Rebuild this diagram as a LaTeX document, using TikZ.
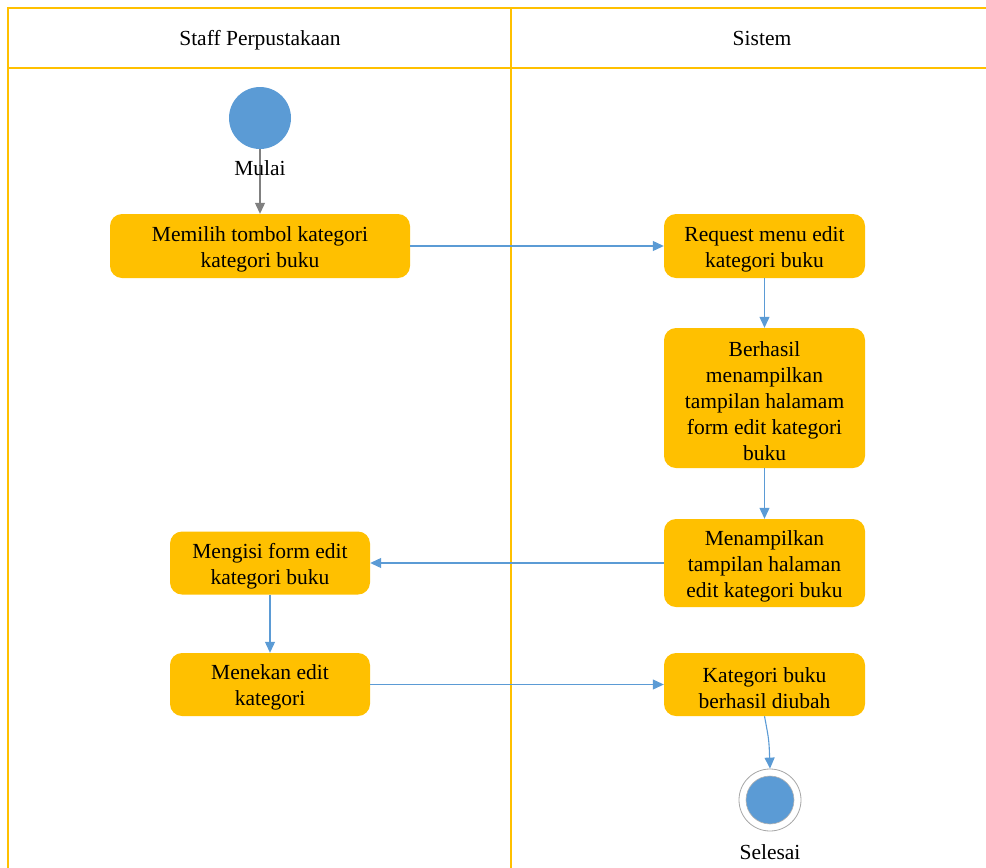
\documentclass[tikz,border=0pt]{standalone}
\usepackage{fontspec}
\setmainfont{Liberation Serif}
\usetikzlibrary{arrows.meta}
\definecolor{lane}{HTML}{FFC000}
\definecolor{act}{HTML}{FFC000}
\definecolor{flow}{HTML}{5B9BD5}
\definecolor{dot}{HTML}{5B9BD5}
% taller first line so the text block sits a little lower in its box
\newcommand\topgap{\rule{0pt}{21.5pt}}
\begin{document}
\begin{tikzpicture}[x=1pt,y=-1pt,
  lanebar/.style={draw=lane,line width=1.6pt},
  action/.style={fill=act,rounded corners=12pt,align=center,font=\fontsize{21.5}{26}\selectfont,inner sep=0pt},
  flowline/.style={draw=flow,line width=1.1pt,-{Triangle[length=11pt,width=10pt]}},
  startflow/.style={draw=gray,line width=1.1pt,-{Triangle[length=11pt,width=10pt]}},
  lbl/.style={font=\fontsize{21.5}{24}\selectfont,inner sep=0pt},
  head/.style={font=\fontsize{21.5}{24}\selectfont,inner sep=0pt,anchor=base}]
\useasboundingbox (0,0) rectangle (986,868);
% swimlane frame
\draw[lanebar] (986,8) -- (8,8) -- (8,868);
\draw[lanebar] (8,68) -- (986,68);
\draw[lanebar] (511,8) -- (511,868);
\node[head] (h1) at (260,45) {Staff Perpustakaan};
\node[head] (h2) at (762,45) {Sistem};
% start / end
\node[circle,fill=dot,minimum size=62pt,inner sep=0pt] (start) at (260,118) {};
\node[circle,draw=gray!70,fill=white,line width=0.8pt,minimum size=62pt,inner sep=0pt] (end) at (770,800) {};
\node[circle,fill=dot,draw=gray!60,line width=0.6pt,minimum size=48pt,inner sep=0pt] (endin) at (770,800) {};
\node[lbl] (selesai) at (770,852) {Selesai};
% actions
\node[action,minimum width=300pt,minimum height=64pt] (a1) at (260,246) {\topgap Memilih tombol kategori\\kategori buku};
\node[action,minimum width=201pt,minimum height=64pt] (a2) at (764.5,246) {\topgap Request menu edit\\kategori buku};
\node[action,minimum width=201pt,minimum height=140pt] (a3) at (764.5,398) {\topgap Berhasil\\menampilkan\\tampilan halamam\\form edit kategori\\buku};
\node[action,minimum width=201pt,minimum height=88pt] (a4) at (764.5,563) {\topgap Menampilkan\\tampilan halaman\\edit kategori buku};
\node[action,minimum width=200pt,minimum height=63pt] (a5) at (270,563) {\topgap Mengisi form edit\\kategori buku};
\node[action,minimum width=200pt,minimum height=63pt] (a6) at (270,684.5) {\topgap Menekan edit\\kategori};
\node[action,minimum width=201pt,minimum height=63pt] (a7) at (764.5,684.5) {\topgap Kategori buku\\berhasil diubah};
% flows
\draw[startflow] (start.south) -- (a1.north);
\node[lbl] (mulai) at (260,168) {Mulai};
\draw[flowline] (a1.east) -- (a2.west);
\draw[flowline] (a2.south) -- (a3.north);
\draw[flowline] (a3.south) -- (a4.north);
\draw[flowline] (a4.west) -- (a5.east);
\draw[flowline] (a5.south) -- (a6.north);
\draw[flowline] (a6.east) -- (a7.west);
\draw[flowline] (a7.south) .. controls (769,740) .. (end.north);
\end{tikzpicture}
\end{document}
